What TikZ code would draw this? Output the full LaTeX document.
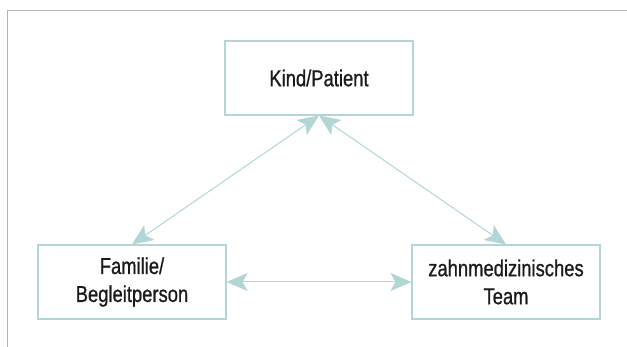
\documentclass[tikz,border=0pt]{standalone}
\usepackage{fontspec}
\setmainfont[FakeStretch=0.8,FakeBold=0.8]{Liberation Sans}
\usetikzlibrary{arrows.meta}
\definecolor{teal1}{HTML}{B2D6D6}
\definecolor{frame}{HTML}{B4B4B4}
\definecolor{txt}{HTML}{1A1A1A}
\begin{document}
\begin{tikzpicture}[x=1pt,y=-1pt,
  box/.style={draw=teal1,line width=1.1pt,minimum width=188pt,minimum height=74pt,
    align=center,inner sep=0pt,text=txt,font=\fontsize{23}{28}\selectfont},
  link/.style={draw=teal1,line width=1pt,{Stealth[length=21pt,width=18pt,inset=5pt]}-{Stealth[length=21pt,width=18pt,inset=5pt]}}]
\useasboundingbox (0,0) rectangle (627,347);
\fill[white] (0,0) rectangle (627,347);
\draw[frame,line width=1.5pt] (7.5,347) -- (7.5,10.5) -- (627,10.5);
\node[box] (kind) at (319,78) {Kind/Patient};
\node[box] (fam) at (132,282) {Familie/\\Begleitperson};
\node[box] (team) at (506,282) {zahnmedizinisches\\Team};
\draw[link] (kind.south) -- (fam.north);
\draw[link] (kind.south) -- (team.north);
\draw[link] (fam.east) -- (team.west);
\end{tikzpicture}
\end{document}
